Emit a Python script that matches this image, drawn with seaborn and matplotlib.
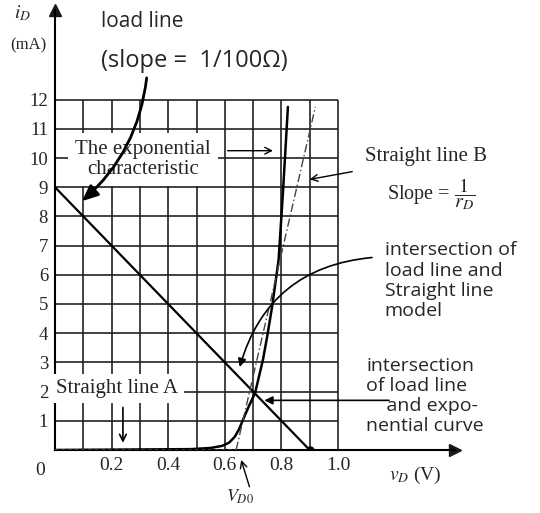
import numpy as np
import matplotlib
matplotlib.use("Agg")
import matplotlib.pyplot as plt
import seaborn as sns

# ***DATOS***
load_v = [0.0, 0.9]            # recta de carga, V
load_i = [9.0, 0.0]            # mA
exp_v = [0.0, 0.48, 0.55, 0.59, 0.615, 0.635, 0.65, 0.665, 0.685, 0.707, 0.735, 0.75, 0.767, 0.79, 0.806, 0.823]
exp_i = [0.0, 0.03, 0.07, 0.14, 0.25, 0.45, 0.7, 1.05, 1.5, 1.95, 3.1, 3.9, 4.9, 6.5, 8.9, 11.75]
lineA_v = [0.0, 0.64]          # recta A (i = 0 hasta V_D0)
lineA_i = [0.0, 0.0]
lineB_v = [0.64, 0.92]         # recta B
lineB_i = [0.0, 11.75]
grid_v = [0.1 * k for k in range(1, 11)]
grid_i = list(range(1, 13))
xtick_vals = [0.2, 0.4, 0.6, 0.8, 1.0]
xtick_labels = ["0.2", "0.4", "0.6", "0.8", "1.0"]
ytick_vals = list(range(1, 13))

sns.set_theme(style="white")
plt.rcParams["font.family"] = ["Liberation Serif", "DejaVu Serif"]
plt.rcParams["mathtext.fontset"] = "stix"
HAND = ["Open Sans", "DejaVu Sans"]

fig = plt.figure(figsize=(5.4, 5.13), dpi=100)
ax = fig.add_axes([55 / 540, 63 / 513, 400 / 540, 440 / 513])
ax.set_xlim(0, 400 / 283)
ax.set_ylim(0, 440 / 29.2)

# cuadricula solo dentro de [0,1] x [0,12]
ax.vlines(grid_v, 0, 12, color="#222222", lw=1.2, zorder=1)
ax.hlines(grid_i, 0, 1.0, color="#222222", lw=1.2, zorder=1)

# curvas
sns.lineplot(x=load_v, y=load_i, ax=ax, color="black", lw=1.6, sort=False, estimator=None, zorder=4)
sns.lineplot(x=exp_v, y=exp_i, ax=ax, color="black", lw=1.8, sort=False, estimator=None, zorder=4)
sns.lineplot(x=lineB_v, y=lineB_i, ax=ax, color="#444444", lw=1.0, sort=False, estimator=None,
             zorder=4, linestyle=(0, (6, 2, 1, 2)))
sns.lineplot(x=lineA_v, y=lineA_i, ax=ax, color="#444444", lw=1.2, sort=False, estimator=None,
             zorder=4, linestyle=(0, (2, 2)))
ax.plot(load_v[-1], load_i[-1], "o", color="black", ms=5, zorder=5)

# ejes con flecha
for s in ["top", "right"]:
    ax.spines[s].set_visible(False)
for s in ["left", "bottom"]:
    ax.spines[s].set_color("black")
    ax.spines[s].set_linewidth(1.5)
ax.plot(1, 0, ">k", ms=8, transform=ax.transAxes, clip_on=False)
ax.plot(0, 1, "^k", ms=8, transform=ax.transAxes, clip_on=False)

ax.set_xticks(xtick_vals)
ax.set_xticklabels(xtick_labels, fontsize=14)
ax.set_yticks(ytick_vals)
ax.set_yticklabels([str(v) for v in ytick_vals], fontsize=13.5)
ax.tick_params(length=0, pad=5)
ax.text(-0.035, -0.4, "0", fontsize=14, ha="right", va="top")

# etiquetas impresas
fig.text(0.041, 0.975, r"$i_D$", fontsize=14, ha="center", va="center")
fig.text(0.052, 0.912, "(mA)", fontsize=12, ha="center", va="center")
fig.text(0.77, 0.074, r"$v_D$ (V)", fontsize=14, ha="center", va="center")
fig.text(0.444, 0.031, r"$V_{D0}$", fontsize=13, ha="center", va="center")

ax.text(0.31, 9.95, "The exponential\ncharacteristic", fontsize=15, ha="center", va="center",
        linespacing=1.05, zorder=3,
        bbox=dict(boxstyle="square,pad=0.35", fc="white", ec="none"))
ax.text(0.22, 2.1, "Straight line A", fontsize=15, ha="center", va="center", zorder=3,
        bbox=dict(boxstyle="square,pad=0.25", fc="white", ec="none"))
ax.text(1.31, 10.05, "Straight line B", fontsize=15, ha="center", va="center")
ax.text(1.33, 8.75, r"Slope = $\dfrac{1}{r_D}$", fontsize=14.5, ha="center", va="center")

# anotaciones manuscritas
fig.text(0.263, 0.958, "load line", fontsize=15, family=HAND, ha="center", va="center")
fig.text(0.36, 0.882, "(slope =  1/100Ω)", fontsize=17, family=HAND, ha="center", va="center")
ax.text(1.165, 5.8, "intersection of\nload line and\nStraight line\nmodel", fontsize=14, family=HAND,
        ha="left", va="center", linespacing=1.15)
ax.text(1.10, 1.85, "intersection\nof load line\n    and expo-\nnential curve", fontsize=14, family=HAND,
        ha="left", va="center", linespacing=1.15)

# flechas
ax.annotate("", xy=(0.088, 8.46), xytext=(0.325, 12.84), annotation_clip=False, zorder=6,
            arrowprops=dict(arrowstyle="-|>,head_length=0.8,head_width=0.35", color="black", lw=2,
                            connectionstyle="arc3,rad=-0.2"))
ax.annotate("", xy=(0.78, 10.25), xytext=(0.6, 10.25), zorder=6,
            arrowprops=dict(arrowstyle="->", color="black", lw=1))
ax.annotate("", xy=(0.89, 9.25), xytext=(1.06, 9.55), zorder=6,
            arrowprops=dict(arrowstyle="->", color="black", lw=1))
ax.annotate("", xy=(0.65, 2.75), xytext=(1.13, 6.6), zorder=6,
            arrowprops=dict(arrowstyle="-|>", color="black", lw=1.2,
                            connectionstyle="arc3,rad=0.35"))
ax.annotate("", xy=(0.73, 1.7), xytext=(1.19, 1.7), zorder=6,
            arrowprops=dict(arrowstyle="-|>", color="black", lw=1.2))
ax.annotate("", xy=(0.24, 0.15), xytext=(0.24, 1.55), zorder=6,
            arrowprops=dict(arrowstyle="->", color="black", lw=1.2))
ax.annotate("", xy=(0.655, -0.25), xytext=(0.69, -1.35), annotation_clip=False, zorder=6,
            arrowprops=dict(arrowstyle="->", color="black", lw=1))

fig.savefig("out.png", dpi=100)
